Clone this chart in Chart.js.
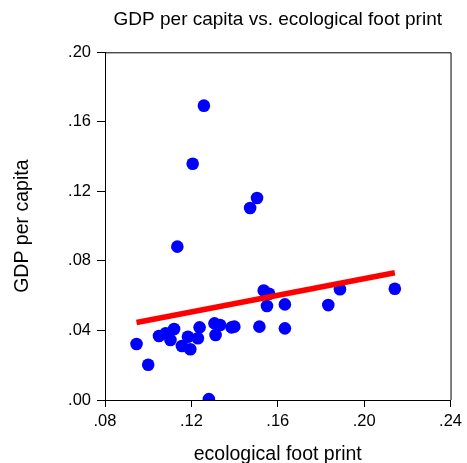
<!DOCTYPE html>
<html>
<head>
<meta charset="utf-8">
<script src="https://cdn.jsdelivr.net/npm/chart.js@4.4.0/dist/chart.umd.min.js"></script>
<style>
  body { margin: 0; background: #fff; }
</style>
</head>
<body>
<canvas id="myChart" width="467" height="463"></canvas>
<script>
// ecological foot print (x) vs GDP per capita (y)
const footPrint = [0.1258, 0.1206, 0.1504, 0.1472, 0.1135, 0.1535, 0.1560, 0.1550,
    0.1633, 0.1633, 0.1834, 0.1888, 0.2142, 0.1515, 0.0946, 0.1000, 0.1050, 0.1081,
    0.1103, 0.1120, 0.1156, 0.1184, 0.1195, 0.1230, 0.1238, 0.1307, 0.1333, 0.1312,
    0.1386, 0.1399, 0.1281];
const gdpPerCapita = [0.1693, 0.1359, 0.1162, 0.1104, 0.0882, 0.0630, 0.0611, 0.0541,
    0.0550, 0.0412, 0.0546, 0.0637, 0.0640, 0.0422, 0.0322, 0.0203, 0.0368, 0.0384,
    0.0345, 0.0408, 0.0311, 0.0364, 0.0292, 0.0355, 0.0418, 0.0441, 0.0431, 0.0374,
    0.0418, 0.0422, 0.0005];

// fitted line end points
const fitX = [0.0946, 0.2142];
const fitY = [0.0446, 0.0732];

const xTicks = [0.08, 0.12, 0.16, 0.20, 0.24];
const yTicks = [0.00, 0.04, 0.08, 0.12, 0.16, 0.20];

const fmt = v => v.toFixed(2).replace(/^0/, '');

const framePlugin = {
    id: 'frame',
    afterDraw(chart) {
        const {ctx, chartArea: a} = chart;
        ctx.save();
        ctx.strokeStyle = '#000';
        ctx.lineWidth = 1;
        ctx.beginPath();
        ctx.moveTo(a.left, a.top + 0.5);
        ctx.lineTo(a.right + 0.5, a.top + 0.5);
        ctx.lineTo(a.right + 0.5, a.bottom);
        ctx.stroke();
        ctx.restore();
    }
};

const ctx = document.getElementById('myChart');
new Chart(ctx, {
    type: 'scatter',
    data: {
        datasets: [{
            type: 'line',
            data: fitX.map((x, i) => ({x: x, y: fitY[i]})),
            borderColor: 'rgb(255, 0, 0)',
            borderWidth: 5.5,
            borderCapStyle: 'butt',
            pointRadius: 0,
            fill: false,
            order: 0
        }, {
            data: footPrint.map((x, i) => ({x: x, y: gdpPerCapita[i]})),
            backgroundColor: 'rgb(0, 0, 255)',
            borderWidth: 0,
            pointRadius: 6.3,
            clip: 0,
            order: 1
        }]
    },
    options: {
        responsive: false,
        animation: false,
        layout: { padding: { left: 0, right: 15, top: 0, bottom: 0 } },
        plugins: {
            legend: { display: false },
            tooltip: { enabled: false },
            title: {
                display: true,
                text: 'GDP per capita vs. ecological foot print',
                fullSize: false,
                color: '#000',
                font: { family: 'Liberation Sans', size: 19, weight: 'normal' },
                padding: { top: 8, bottom: 21.5 }
            }
        },
        scales: {
            x: {
                type: 'linear',
                min: xTicks[0],
                max: xTicks[xTicks.length - 1],
                afterBuildTicks: s => { s.ticks = xTicks.map(v => ({value: v})); },
                afterFit: s => { s.height = 63; },
                ticks: {
                    color: '#000',
                    padding: 5,
                    maxRotation: 0,
                    font: { family: 'Liberation Sans', size: 16.5 },
                    callback: v => fmt(v)
                },
                grid: { drawOnChartArea: false, color: '#000', tickLength: 7 },
                border: { display: true, color: '#000', width: 1 },
                title: {
                    display: true,
                    text: 'ecological foot print',
                    color: '#000',
                    font: { family: 'Liberation Sans', size: 19.5, lineHeight: 0.9 },
                    padding: { top: 0, bottom: 0 }
                }
            },
            y: {
                type: 'linear',
                min: yTicks[0],
                max: yTicks[yTicks.length - 1],
                afterBuildTicks: s => { s.ticks = yTicks.map(v => ({value: v})); },
                afterFit: s => { s.width = 105; },
                ticks: {
                    color: '#000',
                    padding: 6,
                    font: { family: 'Liberation Sans', size: 16.5 },
                    callback: v => fmt(v)
                },
                grid: { drawOnChartArea: false, color: '#000', tickLength: 8 },
                border: { display: true, color: '#000', width: 1 },
                title: {
                    display: true,
                    text: 'GDP per capita',
                    color: '#000',
                    font: { family: 'Liberation Sans', size: 19.5, lineHeight: 1.1 },
                    padding: { top: 12, bottom: 0 }
                }
            }
        }
    },
    plugins: [framePlugin]
});
</script>
</body>
</html>
